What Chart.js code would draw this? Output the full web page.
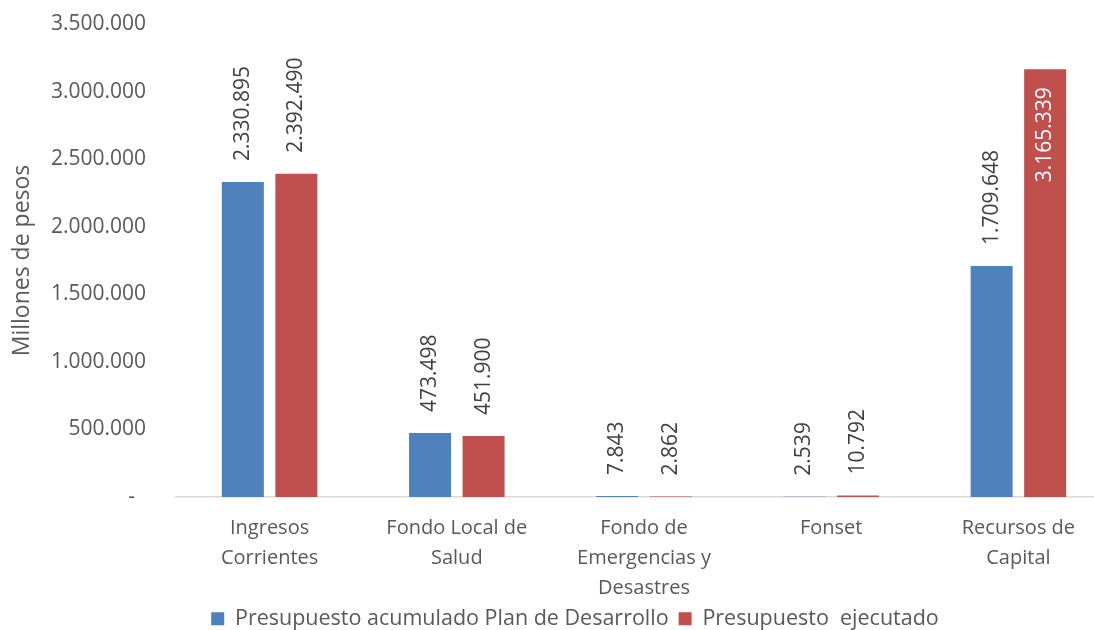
<!DOCTYPE html>
<html lang="es">
<head>
<meta charset="utf-8">
<title>Presupuesto</title>
<script src="https://cdn.jsdelivr.net/npm/chart.js@4.4.1/dist/chart.umd.min.js"></script>
<style>
    html, body { margin: 0; padding: 0; background: #fff; overflow: hidden; }
    #wrap { width: 1150px; height: 630px; }
</style>
</head>
<body>
<div id="wrap"><canvas id="presupuestoChart" width="1150" height="630"></canvas></div>
<script>
// Datos del grafico
const categorias = [
    ['Ingresos', 'Corrientes'],
    ['Fondo Local de', 'Salud'],
    ['Fondo de', 'Emergencias y', 'Desastres'],
    'Fonset',
    ['Recursos de', 'Capital']
];
const planDesarrollo = [2330895, 473498, 7843, 2539, 1709648];
const ejecutado = [2392490, 451900, 2862, 10792, 3165339];
const ejeY = { min: 0, max: 3500000, paso: 500000 };

const FONT = '"Open Sans", "Noto Sans", sans-serif';
const GRIS = '#595959';

function formatoMiles(v) {
    if (v === 0) return '-  ';
    return String(Math.round(v)).replace(/\B(?=(\d{3})+(?!\d))/g, '.');
}

// Etiquetas verticales de valor sobre cada barra
const etiquetasValor = {
    id: 'etiquetasValor',
    afterDatasetsDraw(chart) {
        const ctx = chart.ctx;
        const top = chart.chartArea.top;
        ctx.save();
        ctx.font = '21px ' + FONT;
        ctx.textBaseline = 'middle';
        chart.data.datasets.forEach((ds, i) => {
            const meta = chart.getDatasetMeta(i);
            meta.data.forEach((bar, j) => {
                const texto = formatoMiles(ds.data[j]);
                const w = ctx.measureText(texto).width;
                ctx.save();
                if (bar.y - 21 - w < top) {
                    // dentro del extremo
                    ctx.translate(bar.x, bar.y + 18);
                    ctx.rotate(-Math.PI / 2);
                    ctx.textAlign = 'right';
                    ctx.fillStyle = '#ffffff';
                } else {
                    ctx.translate(bar.x, bar.y - 21);
                    ctx.rotate(-Math.PI / 2);
                    ctx.textAlign = 'left';
                    ctx.fillStyle = '#404040';
                }
                ctx.fillText(texto, 0, 0);
                ctx.restore();
            });
        });
        ctx.restore();
    }
};

new Chart(document.getElementById('presupuestoChart'), {
    type: 'bar',
    data: {
        labels: categorias,
        datasets: [{
            label: 'Presupuesto acumulado Plan de Desarrollo',
            data: planDesarrollo,
            backgroundColor: '#4f81bd',
            categoryPercentage: 0.572,
            barPercentage: 0.785
        }, {
            label: 'Presupuesto  ejecutado',
            data: ejecutado,
            backgroundColor: '#c0504d',
            categoryPercentage: 0.572,
            barPercentage: 0.785
        }]
    },
    options: {
        responsive: false,
        animation: false,
        layout: { padding: { top: 24, bottom: -9.5, left: 0, right: 0 } },
        plugins: {
            tooltip: { enabled: false },
            legend: {
                position: 'bottom',
                labels: {
                    boxWidth: 13,
                    boxHeight: 13,
                    padding: 10,
                    color: GRIS,
                    font: { family: FONT, size: 21.5 }
                }
            }
        },
        scales: {
            x: {
                grid: { display: false, drawTicks: false },
                border: { display: true, color: '#d9d9d9', width: 1.5 },
                ticks: {
                    color: GRIS,
                    padding: 16,
                    maxRotation: 0,
                    autoSkip: false,
                    font: { family: FONT, size: 20, lineHeight: '30px' }
                },
                afterFit(scale) { scale.height = 101; }
            },
            y: {
                min: ejeY.min,
                max: ejeY.max,
                grid: { display: false, drawTicks: false },
                border: { display: false },
                ticks: {
                    stepSize: ejeY.paso,
                    color: GRIS,
                    padding: 30,
                    font: { family: FONT, size: 21 },
                    callback: (v) => formatoMiles(v)
                },
                title: {
                    display: true,
                    text: 'Millones de pesos',
                    color: GRIS,
                    padding: { top: 9, bottom: 0 },
                    font: { family: FONT, size: 23 }
                },
                afterFit(scale) {
                    scale.width = 176;
                    // el padding de los ticks no debe empujar el area del grafico hacia abajo
                    scale.paddingTop = 0;
                    scale.paddingBottom = 0;
                }
            },
            // eje vacio a la derecha para que la leyenda quede centrada como en el original
            y2: {
                position: 'right',
                display: true,
                grid: { display: false, drawTicks: false },
                border: { display: false },
                ticks: { display: false },
                afterFit(scale) { scale.width = 38; }
            }
        }
    },
    plugins: [etiquetasValor]
});
</script>
</body>
</html>
